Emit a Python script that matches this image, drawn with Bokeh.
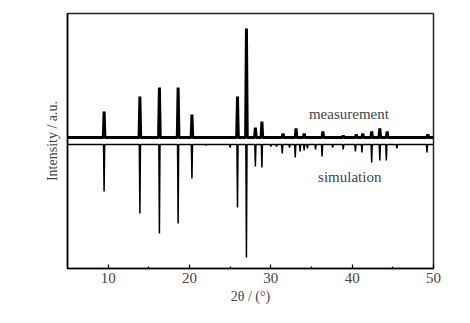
from bokeh.plotting import figure
from bokeh.models import Range1d, FixedTicker, Label
from bokeh.embed import file_html
from bokeh.resources import INLINE

# Measured pattern: peak positions (2theta, deg) and heights (a.u.)
meas_pos = [9.5, 13.9, 16.3, 18.6, 20.3, 25.9, 27.0, 28.1, 28.9, 31.5, 33.1, 34.1,
            36.4, 38.9, 40.5, 41.3, 42.4, 43.4, 44.3, 49.3]
meas_h = [26, 41, 50, 50, 23, 41, 109, 10, 16, 4, 9, 4,
          6, 2, 3, 4, 6, 9, 6, 3]

# Simulated pattern: peak positions and intensities (drawn downward)
sim_pos = [9.5, 13.9, 16.3, 18.6, 20.3, 22.0, 25.0, 25.9, 27.0, 28.1, 28.9, 30.0,
           30.7, 31.4, 32.3, 33.0, 33.6, 34.1, 34.5, 35.5, 36.3, 37.6, 38.9, 40.4,
           41.2, 42.4, 43.4, 44.2, 45.5, 49.2]
sim_h = [47, 69, 89, 79, 34, 1, 3, 63, 113, 22, 23, 2,
         2, 9, 3, 13, 7, 6, 4, 5, 12, 3, 5, 7,
         8, 18, 16, 16, 4, 8]

meas_base = 0
sim_base = -7
x_start, x_end = 5, 50
x_ticks = [10, 20, 30, 40, 50]
x_minor = [15, 25, 35, 45]

FONT = "Liberation Serif"


def spikes(pos, h, base, sign, hw):
    xs, ys = [x_start], [base]
    for p, v in zip(pos, h):
        xs += [p - hw, p, p + hw]
        ys += [base, base + sign * v, base]
    xs.append(x_end)
    ys.append(base)
    return xs, ys


p = figure(width=462, height=315, output_backend="svg", toolbar_location=None,
           x_range=Range1d(x_start, x_end), y_range=Range1d(-131, 124),
           min_border_left=67, min_border_right=29, min_border_top=13,
           min_border_bottom=47)
p.background_fill_color = "white"
p.border_fill_color = "white"
p.grid.visible = False
p.outline_line_color = "#222222"
p.outline_line_width = 1.5

mx, my = spikes(meas_pos, meas_h, meas_base, 1, 0.1)
sx, sy = spikes(sim_pos, sim_h, sim_base, -1, 0.07)
p.line(mx, my, line_color="black", line_width=3.0)
p.line(sx, sy, line_color="black", line_width=1.5)

xa = p.xaxis[0]
xa.ticker = FixedTicker(ticks=x_ticks, minor_ticks=x_minor)
xa.major_tick_in = 4
xa.major_tick_out = 0
xa.minor_tick_in = 2
xa.minor_tick_out = 0
xa.axis_line_width = 1.5
xa.major_tick_line_width = 1.2
xa.minor_tick_line_width = 1.2
xa.major_label_standoff = 4
xa.major_label_text_font = FONT
xa.major_label_text_font_size = "15px"
xa.axis_label = "2θ / (°)"
xa.axis_label_text_font = FONT
xa.axis_label_text_font_style = "normal"
xa.axis_label_text_font_size = "14px"
xa.axis_label_standoff = 3

ya = p.yaxis[0]
ya.ticker = FixedTicker(ticks=[])
ya.major_tick_line_color = None
ya.minor_tick_line_color = None
ya.axis_line_width = 1.5
ya.axis_label = "Intensity / a.u."
ya.axis_label_text_font = FONT
ya.axis_label_text_font_style = "normal"
ya.axis_label_text_font_size = "14px"
ya.axis_label_standoff = 8

p.add_layout(Label(x=39.6, y=24, text="measurement", text_align="center",
                   text_baseline="middle", text_font=FONT, text_font_size="15px"))
p.add_layout(Label(x=39.7, y=-39, text="simulation", text_align="center",
                   text_baseline="middle", text_font=FONT, text_font_size="15px"))

open("out.html", "w").write(file_html(p, INLINE))
